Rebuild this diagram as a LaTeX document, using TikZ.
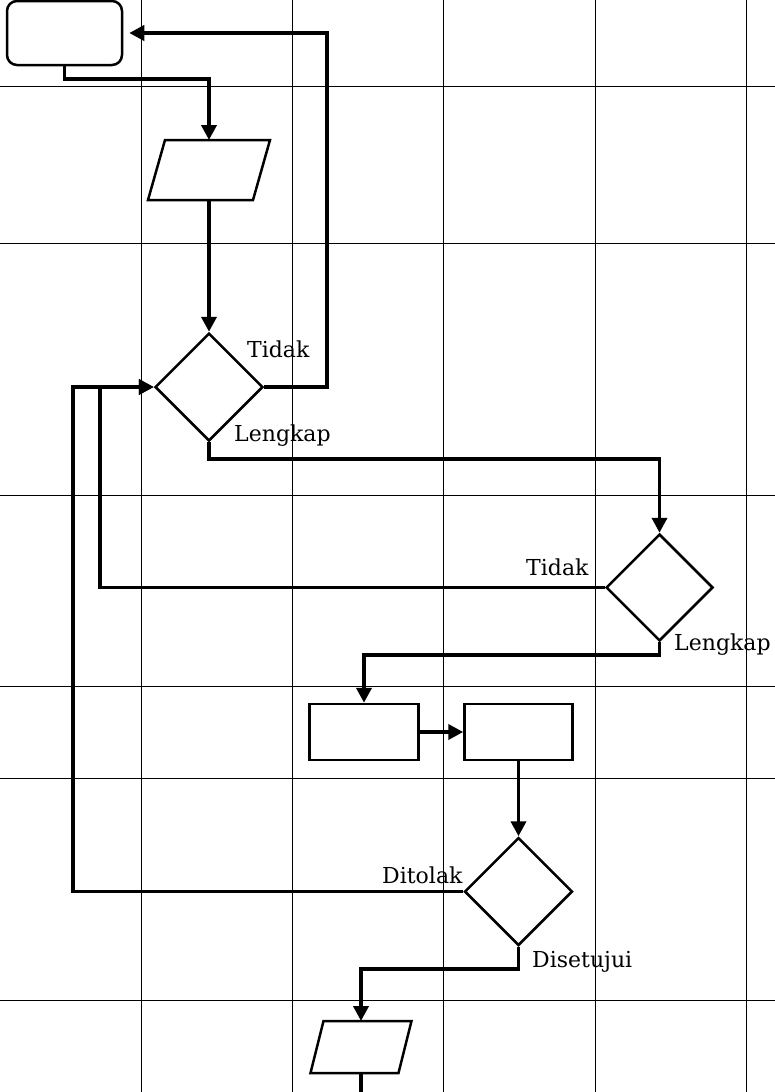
\documentclass[tikz,border=0pt]{standalone}
\usepackage{fontspec}
\setmainfont{DejaVu Serif}
\usetikzlibrary{arrows.meta,shapes.geometric}
\begin{document}
\begin{tikzpicture}[x=1pt,y=-1pt,
  gridline/.style={line width=1pt,black},
  shp/.style={draw,line width=2.5pt,fill=white,inner sep=0pt},
  startbox/.style={shp,rounded corners=10pt,minimum width=115pt,minimum height=64pt},
  procbox/.style={shp,minimum width=108pt,minimum height=56pt},
  decision/.style={shp,diamond,minimum width=108pt,minimum height=108pt},
  iospace/.style={inner sep=0pt,outer sep=0pt},
  conn/.style={line width=3.8pt,line join=miter},
  arr/.style={conn,-{Triangle[length=15pt,width=15pt]}},
  lbl/.style={anchor=base west,inner sep=0pt,font=\fontsize{22}{26}\selectfont}
]
\useasboundingbox (0,0) rectangle (775,1092);
% grid
\foreach \gx in {141.5,292.5,443.5,595.5,746.5} \draw[gridline] (\gx,0) -- (\gx,1092);
\foreach \gy in {86,243,495,686,778.5,1000} \draw[gridline] (0,\gy) -- (775,\gy);
% nodes
\node[startbox] (start) at (64.5,33) {};
\node[iospace,minimum width=122pt,minimum height=60pt] (p1) at (209,170) {};
\draw[shp] ([xshift=17pt]p1.north west) -- (p1.north east) -- ([xshift=-17pt]p1.south east) -- (p1.south west) -- cycle;
\node[decision] (d1) at (209,387) {};
\node[decision,minimum width=107pt,minimum height=107pt] (d2) at (659.5,587.5) {};
\node[procbox,minimum width=109pt] (b1) at (364,732) {};
\node[procbox] (b2) at (518.5,732) {};
\node[decision] (d3) at (518.5,891.5) {};
\node[iospace,minimum width=101pt,minimum height=52pt] (p2) at (361,1047) {};
\draw[shp] ([xshift=13pt]p2.north west) -- (p2.north east) -- ([xshift=-13pt]p2.south east) -- (p2.south west) -- cycle;
\coordinate (r1) at (327,33);
\coordinate (l1) at (100,587.5);
\coordinate (l2) at (73,891.5);
\coordinate (endp) at (361,1092);
% connectors
\draw[arr] (start.south) -- ++(0,13) -| (p1.north);
\draw[arr] (p1.south) -- (d1.north);
\draw[arr] (d1.east) -| (r1) -- ([xshift=6pt]start.east);
\draw[arr] (d1.south) -- ++(0,17) -| (d2.north);
\draw[arr] (d2.west) -- (l1) |- (d1.west);
\draw[arr] (d2.south) -- ++(0,13) -| (b1.north);
\draw[arr] (b1.east) -- (b2.west);
\draw[arr] (b2.south) -- (d3.north);
\draw[arr] (d3.west) -- (l2) |- (d1.west);
\draw[arr] (d3.south) -- ++(0,22) -| (p2.north);
\draw[conn] (p2.south) -- (endp);
% labels
\node[lbl] (t1) at (247,357) {Tidak};
\node[lbl] (g1) at (234,441) {Lengkap};
\node[lbl] (t2) at (526,575) {Tidak};
\node[lbl] (g2) at (674,650) {Lengkap};
\node[lbl] (t3) at (382,883) {Ditolak};
\node[lbl] (s3) at (532,967) {Disetujui};
\end{tikzpicture}
\end{document}
